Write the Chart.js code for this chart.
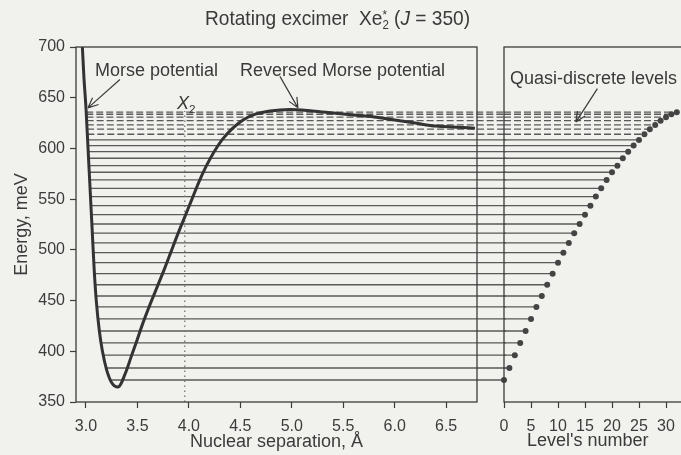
<!DOCTYPE html>
<html>
<head>
<meta charset="utf-8">
<script src="https://cdn.jsdelivr.net/npm/chart.js@4.4.1/dist/chart.umd.min.js"></script>
<style>
  html, body { margin:0; padding:0; background:#f1f1ee; }
  body { width:681px; height:455px; overflow:hidden; position:relative;
         font-family:"Liberation Sans", Arial, sans-serif; color:#3a3a3a; }
  canvas { position:absolute; top:0; }
  #left  { left:0; }
  #right { left:497px; }
  .lbl { position:absolute; font-size:18px; line-height:1; white-space:nowrap; }
  .ss  { display:inline-block; vertical-align:-0.32em; font-size:0.6em; line-height:0.8; text-align:left; }
  #title { font-size:21px; transform:scaleX(0.91); transform-origin:0 0; }
</style>
</head>
<body>
<canvas id="left" width="506" height="455"></canvas>
<canvas id="right" width="227" height="455"></canvas>

<div class="lbl" id="title" style="left:205px;top:7px;">Rotating excimer&nbsp; Xe<span class="ss">*<br>2</span> (<i>J</i> = 350)</div>
<div class="lbl" style="left:95px;top:61px;">Morse potential</div>
<div class="lbl" style="left:240px;top:61px;">Reversed Morse potential</div>
<div class="lbl" style="left:510px;top:69px;">Quasi-discrete levels</div>
<div class="lbl" style="left:177px;top:94px;"><i>X</i><span style="font-size:0.65em;vertical-align:-0.3em">2</span></div>
<div class="lbl" style="left:527px;top:431px;">Level's number</div>

<script>
(function(){
  'use strict';

  // --- tick values
  const xTicks = [3.0, 3.5, 4.0, 4.5, 5.0, 5.5, 6.0, 6.5];
  const yTicks = [350, 400, 450, 500, 550, 600, 650, 700];
  const nTicks = [0, 5, 10, 15, 20, 25, 30, 35];

  // --- potential curve (Å, meV)
  const curveR = [2.965, 2.98, 3.00, 3.02, 3.04, 3.06, 3.08, 3.10, 3.13, 3.16, 3.20, 3.25, 3.311,
                  3.389, 3.437, 3.496, 3.554, 3.622, 3.690, 3.758, 3.826, 3.894, 3.962, 4.030,
                  4.098, 4.166, 4.244, 4.322, 4.419, 4.526, 4.652, 4.788, 4.98, 5.20, 5.40,
                  5.60, 5.80, 6.00, 6.20, 6.40, 6.60, 6.78];
  const curveE = [700, 670, 640, 600, 560, 520, 480, 450, 420, 400, 382, 369, 364.8,
                  380, 394, 411, 428, 446, 463, 480, 498, 516, 533, 550,
                  567, 582, 596.5, 608.4, 619.2, 628.1, 634.0, 637.0, 638.5, 637, 635,
                  633, 631, 628, 625, 622, 621, 620];

  // --- vibrational levels
  const levelNum = [0,1,2,3,4,5,6,7,8,9,10,11,12,13,14,15,16,17,18,19,20,21,22,23,24,25,26,27,28,29,30,31,32];
  const levelE   = [371.7, 383.5, 396.2, 408.2, 420.0, 431.9, 443.7, 454.5, 465.6, 476.5, 487.4,
                    497.2, 506.8, 516.4, 525.5, 534.7, 543.6, 552.5, 560.7, 568.9, 576.5, 583.0,
                    590.3, 596.8, 602.8, 608.4, 614.0, 619.0, 623.2, 627.4, 630.8, 633.7, 635.7];
  const levelStartR = [3.24, 3.20, 3.17, 3.148, 3.13, 3.118, 3.106, 3.097, 3.09, 3.082, 3.076,
                       3.071, 3.067, 3.062, 3.057, 3.053, 3.048, 3.044, 3.04, 3.036, 3.032, 3.028,
                       3.025, 3.022, 3.019, 3.016, 3.013, 3.0105, 3.008, 3.006, 3.005, 3.003, 3.002];
  const firstQuasi = 26;      // levels from here on are quasi-discrete (dashed)
  const gapEndR = 7.3;        // left-panel level lines run on past the frame

  // --- X2 marker
  const x2R = 3.96;
  const x2E = [350, 637];

  const INK = '#3c3c3c', LINE = '#5a5a5a';
  Chart.defaults.font.family = '"Liberation Sans", Arial, sans-serif';
  Chart.defaults.font.size = 16;
  Chart.defaults.color = INK;

  function segs(from, to, x0, x1){
    const out = [];
    for (let i = from; i < to; i++){
      out.push({x:x0(i), y:levelE[i]}, {x:x1(i), y:levelE[i]}, {x:x1(i), y:null});
    }
    return out;
  }

  const framePlugin = {
    id:'frame',
    afterDraw(chart){
      const {ctx, chartArea:a} = chart;
      ctx.save(); ctx.strokeStyle = INK; ctx.lineWidth = 1.3;
      ctx.strokeRect(a.left, a.top, a.right-a.left, a.bottom-a.top);
      ctx.restore();
    }
  };
  const arrowPlugin = {
    id:'arrows',
    afterDatasetsDraw(chart, args, opts){
      const {ctx, scales:{x, y}} = chart;
      ctx.save(); ctx.strokeStyle = INK; ctx.lineWidth = 1.2;
      (opts.list||[]).forEach(a=>{
        const x0 = x.getPixelForValue(a.from[0]), y0 = y.getPixelForValue(a.from[1]);
        const x1 = x.getPixelForValue(a.to[0]),   y1 = y.getPixelForValue(a.to[1]);
        const ang = Math.atan2(y1-y0, x1-x0);
        ctx.beginPath(); ctx.moveTo(x0,y0); ctx.lineTo(x1,y1);
        [-0.42, 0.42].forEach(d=>{ ctx.moveTo(x1,y1); ctx.lineTo(x1-11*Math.cos(ang+d), y1-11*Math.sin(ang+d)); });
        ctx.stroke();
      });
      ctx.restore();
    }
  };

  const tickGrid = { display:true, drawOnChartArea:false, drawTicks:true, tickLength:6, color:INK, tickColor:INK, tickWidth:1.2 };
  const fitX = s=>{ s.height = 53; s.paddingLeft = 0; s.paddingRight = 0; };

  // ---------- left panel
  new Chart(document.getElementById('left'), {
    type:'line',
    data:{ datasets:[
      { data: curveR.map((r,i)=>({x:r, y:curveE[i]})), borderColor:'#333', borderWidth:3,
        pointRadius:0, cubicInterpolationMode:'monotone' },
      { data: x2E.map(e=>({x:x2R, y:e})), borderColor:'#777', borderWidth:1.3, borderDash:[1.5,3.5], pointRadius:0 },
      { data: segs(0, firstQuasi, i=>levelStartR[i], ()=>gapEndR), borderColor:LINE, borderWidth:1.3, pointRadius:0, clip:false },
      { data: segs(firstQuasi, levelE.length, i=>levelStartR[i], ()=>gapEndR), borderColor:LINE, borderWidth:1.3,
        borderDash:[7,3], pointRadius:0, clip:false }
    ]},
    options:{
      responsive:false, animation:false, events:[],
      layout:{ padding:{ left:0, top:47, right:29, bottom:0 } },
      plugins:{ legend:{display:false}, tooltip:{enabled:false},
        arrows:{ list:[ {from:[3.33, 668], to:[3.02, 640]}, {from:[4.885, 671], to:[5.06, 640]} ] } },
      scales:{
        x:{ type:'linear', min:2.903, max:6.80,
            afterBuildTicks: s=>{ s.ticks = xTicks.map(v=>({value:v})); },
            afterFit: fitX,
            ticks:{ padding:9, maxRotation:0, callback: v=>v.toFixed(1) },
            grid:tickGrid, border:{display:false},
            title:{ display:true, text:'Nuclear separation, Å', font:{size:18}, padding:{top:0,bottom:2} } },
        y:{ min:350, max:700,
            afterBuildTicks: s=>{ s.ticks = yTicks.map(v=>({value:v})); },
            afterFit: s=>{ s.width = 76; },
            ticks:{ padding:5 },
            grid:tickGrid, border:{display:false},
            title:{ display:true, text:'Energy, meV', font:{size:18}, padding:{top:11,bottom:0} } }
      }
    },
    plugins:[framePlugin, arrowPlugin]
  });

  // ---------- right panel
  new Chart(document.getElementById('right'), {
    type:'line',
    data:{ datasets:[
      { data: levelNum.map((n,i)=>({x:n, y:levelE[i]})), showLine:false, pointRadius:3,
        pointBackgroundColor:'#444', pointBorderColor:'#444', pointBorderWidth:0, clip:false },
      { data: segs(0, firstQuasi, ()=>0, i=>levelNum[i]), borderColor:LINE, borderWidth:1.3, pointRadius:0 },
      { data: segs(firstQuasi, levelE.length, ()=>0, i=>levelNum[i]), borderColor:LINE, borderWidth:1.3,
        borderDash:[7,3], pointRadius:0 }
    ]},
    options:{
      responsive:false, animation:false, events:[],
      layout:{ padding:{ left:7, top:47, right:0, bottom:0 } },
      plugins:{ legend:{display:false}, tooltip:{enabled:false},
        arrows:{ list:[ {from:[17.3, 659], to:[13.3, 626]} ] } },
      scales:{
        x:{ type:'linear', min:0, max:40,
            afterBuildTicks: s=>{ s.ticks = nTicks.map(v=>({value:v})); },
            afterFit: fitX,
            ticks:{ padding:9, maxRotation:0 },
            grid:tickGrid, border:{display:false} },
        y:{ display:false, min:350, max:700 }
      }
    },
    plugins:[framePlugin, arrowPlugin]
  });
})();
</script>
</body>
</html>
